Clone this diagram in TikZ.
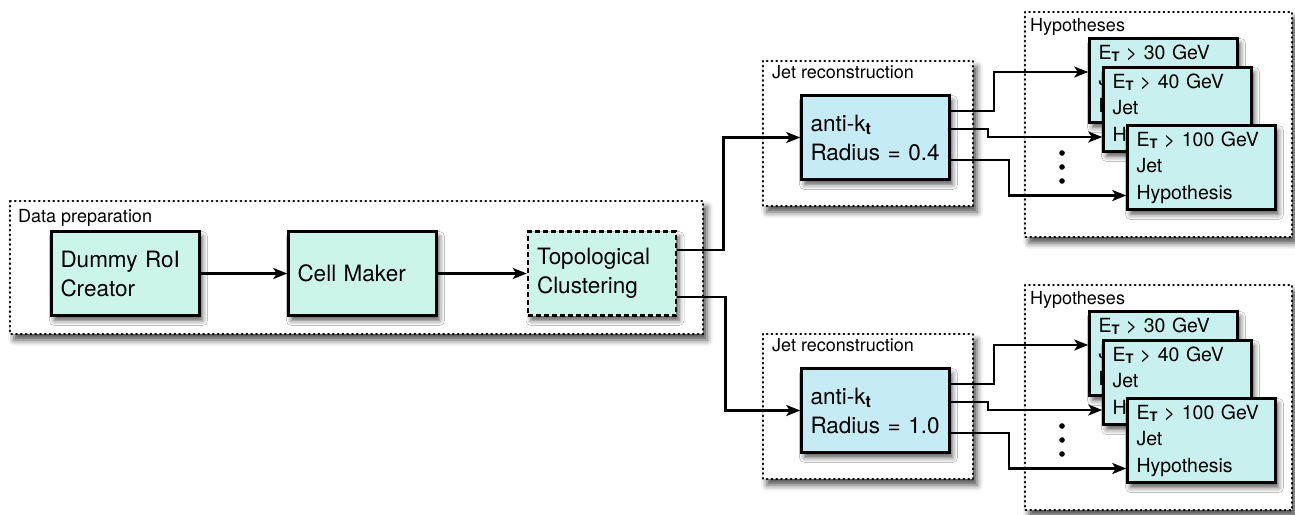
\documentclass[tikz,border=0pt]{standalone}
\usepackage{fontspec}
\setmainfont{TeX Gyre Heros}
\usetikzlibrary{arrows.meta,shadows.blur}
\definecolor{prepfill}{HTML}{CCF5E9}
\definecolor{jetfill}{HTML}{C5EBF5}
\definecolor{hypfill}{HTML}{C8F0EE}
\tikzset{
  boxbase/.style={draw=black, line width=2.5pt, inner xsep=9pt, inner ysep=0pt,
    text width=130pt, minimum height=84pt, align=left,
    font=\fontsize{22.5}{29}\selectfont,
    blur shadow={shadow xshift=3pt, shadow yshift=-5pt, shadow blur radius=5pt, shadow opacity=65}},
  prepbox/.style={boxbase, fill=prepfill},
  jetbox/.style={boxbase, fill=jetfill},
  hypbox/.style={boxbase, fill=hypfill, font=\fontsize{19.5}{26.5}\selectfont},
  frame/.style={draw=black, fill=white, line width=2.4pt, line cap=round,
    dash pattern=on 0.6pt off 4.2pt,
    blur shadow={shadow xshift=4pt, shadow yshift=-6pt, shadow blur radius=6pt, shadow opacity=70}},
  framelabel/.style={anchor=base west, inner sep=0pt, font=\fontsize{18}{20}\selectfont},
  flow/.style={draw=black, line width=2.5pt, -{Stealth[length=14pt,width=11pt,inset=3.5pt]}},
  dotmark/.style={fill=black, draw=none},
}
\newcommand{\ET}{E\raisebox{-0.25ex}{\fontsize{13}{13}\selectfont\bfseries T}}
\newcommand{\kt}{k\raisebox{-0.3ex}{\fontsize{16}{16}\selectfont\bfseries t}}
\begin{document}
\begin{tikzpicture}[x=1pt,y=-1pt]
\useasboundingbox (0,0) rectangle (1295,514);
% Data preparation
\draw[frame] (10,201) rectangle (703,334);
\node[framelabel] (dplabel) at (18,222) {Data preparation};
\node[prepbox] (dummy) at (125.5,273.5) {Dummy RoI\\Creator};
\node[prepbox] (cell) at (362.5,273.5) {Cell Maker};
\node[prepbox, dashed, dash pattern=on 5pt off 3pt] (topo) at (602,273.5) {Topological\\Clustering};
\draw[flow] (dummy) -- (cell);
\draw[flow] (cell) -- (topo);

\foreach \s/\dy/\rad in {a/0/0.4, b/273/1.0}{
  \begin{scope}[yshift=-\dy pt]
    \draw[frame] (763,61) rectangle (973,206);
    \node[framelabel] (jrlabel\s) at (772,78) {Jet reconstruction};
    \draw[frame] (1025,12) rectangle (1292,237);
    \node[framelabel] (hplabel\s) at (1030,31) {Hypotheses};
    \node[jetbox] (jet\s) at (875.5,137.5) {anti-\kt\\Radius = \rad};
    \node[hypbox] (hthirty\s) at (1163.5,80.5) {\ET{} > 30 GeV\\Jet\\Hypothesis};
    \node[hypbox] (hforty\s) at (1177.5,109.5) {\ET{} > 40 GeV\\Jet\\Hypothesis};
    \node[hypbox] (hhundred\s) at (1201.5,167.5) {\ET{} > 100 GeV\\Jet\\Hypothesis};
    \fill[dotmark] (1062,153) circle (2.8pt);
    \fill[dotmark] (1062,167) circle (2.8pt);
    \fill[dotmark] (1062,181) circle (2.8pt);
    \draw[flow] ([yshift=26.5pt]jet\s.east) -- ++(43,0) |- ([yshift=8.5pt]hthirty\s.west);
    \draw[flow] ([yshift=8.5pt]jet\s.east) -- ++(37,0) |- ([yshift=-27.5pt]hforty\s.west);
    \draw[flow] ([yshift=-22.5pt]jet\s.east) -- ++(58,0) |- ([yshift=-28pt]hhundred\s.west);
  \end{scope}
}
\draw[flow] ([yshift=23.5pt]topo.east) -- ++(46,0) |- (jeta.west);
\draw[flow] ([yshift=-23.5pt]topo.east) -- ++(48,0) |- (jetb.west);
\end{tikzpicture}
\end{document}
